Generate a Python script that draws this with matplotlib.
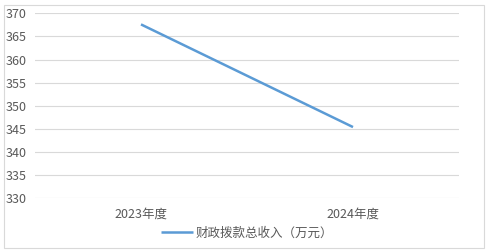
import matplotlib.pyplot as plt
from matplotlib.patches import Rectangle

plt.rcParams['font.family'] = ['Noto Sans CJK SC', 'DejaVu Sans']

# данные
categories = ['2023年度', '2024年度']
values = [367.6, 345.4]
series_name = '财政拨款总收入（万元）'
y_ticks = [330, 335, 340, 345, 350, 355, 360, 365, 370]

text_color = '#595959'
grid_color = '#D9D9D9'
line_color = '#5B9BD5'

fig = plt.figure(figsize=(4.88, 2.52), dpi=100)
W, H = 488, 252

# рамка вокруг диаграммы
fig.patches.append(Rectangle((4 / W, 4 / H), 480 / W, 243 / H, transform=fig.transFigure,
                             fill=False, edgecolor=grid_color, linewidth=0.8))

ax = fig.add_axes([35 / W, 1 - 198.3 / H, 424 / W, 185 / H])
x = range(len(categories))
ax.plot(x, values, color=line_color, linewidth=1.8, label=series_name, solid_capstyle='butt')

ax.set_xlim(-0.5, len(categories) - 0.5)
ax.set_ylim(330, 370)
ax.set_yticks(y_ticks)
ax.set_xticks(list(x))
ax.set_xticklabels(categories)
ax.grid(axis='y', color=grid_color, linewidth=0.8)
ax.set_axisbelow(True)
for s in ax.spines.values():
    s.set_visible(False)
ax.tick_params(axis='both', length=0, colors=text_color, labelsize=9)
ax.tick_params(axis='y', pad=6)
ax.tick_params(axis='x', pad=7)

leg = fig.legend(loc='center', bbox_to_anchor=(247 / W, 1 - 233 / H), frameon=False,
                 fontsize=9, handlelength=2.6, handletextpad=0.2)
for t in leg.get_texts():
    t.set_color(text_color)

fig.savefig('out.png', dpi=100)
